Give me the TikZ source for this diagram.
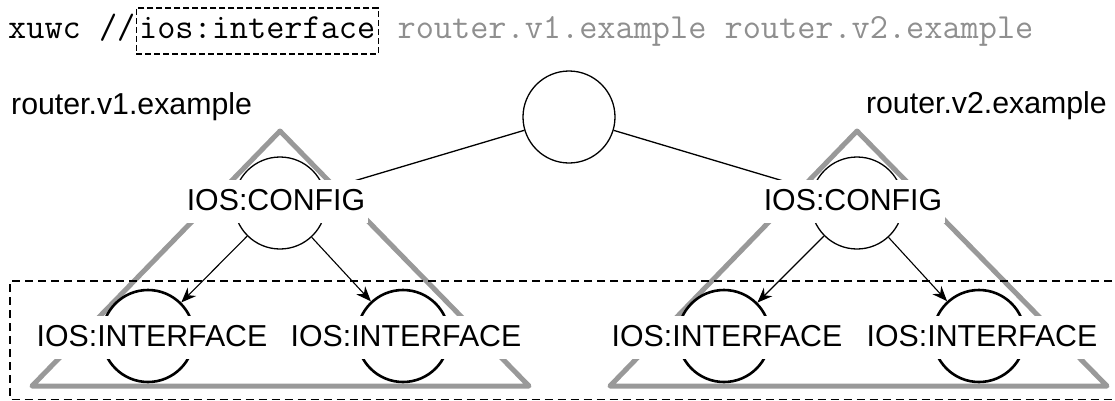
\documentclass[tikz,border=0pt]{standalone}
\usepackage{fontspec}
\setmainfont{Liberation Sans}
\usetikzlibrary{arrows.meta}
\definecolor{trigray}{HTML}{999999}
\definecolor{txtgray}{HTML}{8F8F8F}
\begin{document}
\begin{tikzpicture}[x=1bp,y=-1bp,
  big/.style={font=\fontsize{30.4}{30}\selectfont},
  mono/.style={font=\ttfamily\fontsize{35.4}{35}\selectfont},
  lbl/.style={big, fill=white, inner xsep=3bp, inner ysep=8bp, text height=22bp, text depth=5bp, anchor=base},
  circ/.style={circle, draw, minimum size=92bp, inner sep=0pt, line width=1.3bp},
  icirc/.style={circ, line width=2.6bp},
  tri/.style={draw=trigray, line width=5bp, line join=round},
  edgeline/.style={line width=1.3bp},
  arr/.style={line width=1.1bp, -{Stealth[length=15bp,width=12bp]}},
  dbox/.style={draw, dash pattern=on 6bp off 3bp, line width=1.2bp}
]
\useasboundingbox (0,0) rectangle (1115,400);

% title line
\node[mono, anchor=base west, inner sep=0pt] (t1) at (8,38) {xuwc //};
\node[mono, anchor=base west, dbox, inner xsep=3bp, inner ysep=8bp, text height=22bp, text depth=8bp] (t2) at (t1.base east) {ios:interface};
\node[mono, anchor=base west, inner sep=0pt, text=txtgray, xshift=18.6bp] (t3) at (t2.base east) {router.v1.example router.v2.example};

% tree labels
\node[big, anchor=base west, inner sep=0pt] (r1) at (11,114) {router.v1.example};
\node[big, anchor=base east, inner sep=0pt] (r2) at (1107,113) {router.v2.example};

% triangles
\coordinate (a1) at (280,131);
\coordinate (a2) at (857,131);
\draw[tri] (a1) -- (529,386) -- (32,386) -- cycle;
\draw[tri] (a2) -- (1107,386) -- (610,386) -- cycle;

% dashed selection box
\draw[line width=1.2bp, dash pattern=on 8bp off 5bp] (1125,281) -- (10,281) -- (10,399.5) -- (1125,399.5);

% circles
\node[circ] (root) at (569,117) {};
\node[circ] (c1) at (280,203) {};
\node[circ] (c2) at (857,203) {};
\node[icirc] (i11) at (148,336) {};
\node[icirc] (i12) at (403,336) {};
\node[icirc] (i21) at (724,336) {};
\node[icirc] (i22) at (979,336) {};

% connectors
\draw[edgeline] (root) -- (c1);
\draw[edgeline] (root) -- (c2);
\draw[arr] (c1) -- (i11);
\draw[arr] (c1) -- (i12);
\draw[arr] (c2) -- (i21);
\draw[arr] (c2) -- (i22);

% labels
\node[lbl] (lc1) at (276,210) {IOS:CONFIG};
\node[lbl] (lc2) at (853,210) {IOS:CONFIG};
\node[lbl] (li11) at (152,346) {IOS:INTERFACE};
\node[lbl] (li12) at (406,346) {IOS:INTERFACE};
\node[lbl] (li21) at (727,346) {IOS:INTERFACE};
\node[lbl] (li22) at (982,346) {IOS:INTERFACE};
\end{tikzpicture}
\end{document}
